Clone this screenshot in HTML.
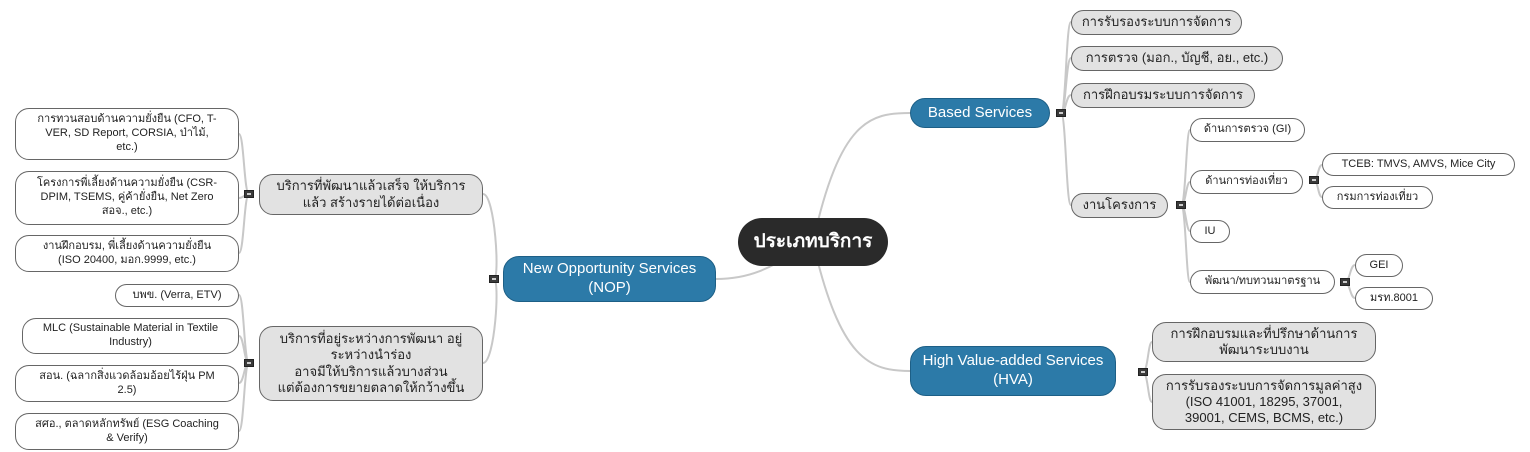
<!DOCTYPE html>
<html><head><meta charset="utf-8"><style>
body{margin:0;width:1530px;height:452px;background:#fff;position:relative;overflow:hidden;font-family:"Liberation Sans","DejaVu Sans",sans-serif;}
.n{position:absolute;box-sizing:border-box;display:flex;align-items:center;justify-content:center;text-align:center;border:1px solid #555;line-height:1.25;color:#222}
.w{background:#fff;border-radius:14px;font-size:11px;border-color:#666}
.g{background:#e2e2e2;border-radius:14px;font-size:13px;border-color:#666}
.b{background:#2c7aa8;color:#fff;border-radius:16px;font-size:15px;border:1px solid #1d5f86}
.c{background:#2a2a2a;color:#fff;border-radius:24px;font-size:19px;font-weight:bold;border:none}
.m{position:absolute;width:10px;height:8px;background:#3a3a3a;border:1px solid #222;box-sizing:border-box}
.m:after{content:"";position:absolute;left:2px;right:2px;top:2px;height:2px;background:#ccc}
</style></head><body>
<svg width="1530" height="452" style="position:absolute;left:0;top:0" fill="none" stroke="#c8c8c8" stroke-width="2">
<path d="M813 242 C840 120,870 113,910 113"/>
<path d="M813 242 C840 360,870 371,910 371"/>
<path d="M813 242 C780 260,760 279,716 279"/>
<path d="M1061 113 C1066 113,1066 22,1071 22 M1061 113 C1066 113,1066 58,1071 58 M1061 113 C1066 113,1066 95,1071 95 M1061 113 C1066 113,1066 205,1071 205"/>
<path d="M1181 205 C1186 205,1186 130,1190 130 M1181 205 C1186 205,1186 182,1190 182 M1181 205 C1186 205,1186 231,1190 231 M1181 205 C1186 205,1186 282,1190 282"/>
<path d="M1314 180 C1318 180,1318 165,1322 165 M1314 180 C1318 180,1318 197,1322 197"/>
<path d="M1345 282 C1350 282,1350 265,1355 265 M1345 282 C1350 282,1350 298,1355 298"/>
<path d="M1143 372 C1148 372,1148 342,1152 342 M1143 372 C1148 372,1148 402,1152 402"/>
<path d="M494 279 C500 279,495 194,483 194 M494 279 C500 279,495 363,483 363"/>
<path d="M249 194 C244 194,244 134,239 134 M249 194 C244 194,244 198,239 198 M249 194 C244 194,244 253,239 253"/>
<path d="M249 363 C244 363,244 295,239 295 M249 363 C244 363,244 336,239 336 M249 363 C244 363,244 383,239 383 M249 363 C244 363,244 431,239 431"/>
</svg>
<div class="n c" style="left:738px;top:218px;width:150px;height:48px">ประเภทบริการ</div>
<div class="n b" style="left:910px;top:98px;width:140px;height:30px">Based Services</div>
<div class="n b" style="left:503px;top:256px;width:213px;height:46px">New Opportunity Services<br>(NOP)</div>
<div class="n b" style="left:910px;top:346px;width:206px;height:50px">High Value-added Services<br>(HVA)</div>
<div class="m" style="left:1056px;top:109px"></div>
<div class="m" style="left:1138px;top:368px"></div>
<div class="m" style="left:489px;top:275px"></div>
<div class="m" style="left:244px;top:190px"></div>
<div class="m" style="left:244px;top:359px"></div>
<div class="m" style="left:1176px;top:201px"></div>
<div class="m" style="left:1309px;top:176px"></div>
<div class="m" style="left:1340px;top:278px"></div>
<div class="n g" style="left:1071px;top:10px;width:171px;height:25px">การรับรองระบบการจัดการ</div>
<div class="n g" style="left:1071px;top:46px;width:212px;height:25px">การตรวจ (มอก., บัญชี, อย., etc.)</div>
<div class="n g" style="left:1071px;top:83px;width:184px;height:25px">การฝึกอบรมระบบการจัดการ</div>
<div class="n g" style="left:1071px;top:193px;width:97px;height:25px">งานโครงการ</div>
<div class="n w" style="left:1190px;top:118px;width:115px;height:24px">ด้านการตรวจ (GI)</div>
<div class="n w" style="left:1190px;top:170px;width:113px;height:24px">ด้านการท่องเที่ยว</div>
<div class="n w" style="left:1190px;top:220px;width:40px;height:23px">IU</div>
<div class="n w" style="left:1190px;top:270px;width:145px;height:24px">พัฒนา/ทบทวนมาตรฐาน</div>
<div class="n w" style="left:1322px;top:153px;width:193px;height:23px">TCEB: TMVS, AMVS, Mice City</div>
<div class="n w" style="left:1322px;top:186px;width:111px;height:23px">กรมการท่องเที่ยว</div>
<div class="n w" style="left:1355px;top:254px;width:48px;height:23px">GEI</div>
<div class="n w" style="left:1355px;top:287px;width:78px;height:23px">มรท.8001</div>
<div class="n g" style="left:1152px;top:322px;width:224px;height:40px">การฝึกอบรมและที่ปรึกษาด้านการ<br>พัฒนาระบบงาน</div>
<div class="n g" style="left:1152px;top:374px;width:224px;height:56px">การรับรองระบบการจัดการมูลค่าสูง<br>(ISO 41001, 18295, 37001,<br>39001, CEMS, BCMS, etc.)</div>
<div class="n g" style="left:259px;top:174px;width:224px;height:41px">บริการที่พัฒนาแล้วเสร็จ ให้บริการ<br>แล้ว สร้างรายได้ต่อเนื่อง</div>
<div class="n g" style="left:259px;top:326px;width:224px;height:75px">บริการที่อยู่ระหว่างการพัฒนา อยู่<br>ระหว่างนำร่อง<br>อาจมีให้บริการแล้วบางส่วน<br>แต่ต้องการขยายตลาดให้กว้างขึ้น</div>
<div class="n w" style="left:15px;top:108px;width:224px;height:52px">การทวนสอบด้านความยั่งยืน (CFO, T-<br>VER, SD Report, CORSIA, ป่าไม้,<br>etc.)</div>
<div class="n w" style="left:15px;top:171px;width:224px;height:54px">โครงการพี่เลี้ยงด้านความยั่งยืน (CSR-<br>DPIM, TSEMS, คู่ค้ายั่งยืน, Net Zero<br>สอจ., etc.)</div>
<div class="n w" style="left:15px;top:235px;width:224px;height:37px">งานฝึกอบรม, พี่เลี้ยงด้านความยั่งยืน<br>(ISO 20400, มอก.9999, etc.)</div>
<div class="n w" style="left:115px;top:284px;width:124px;height:23px">บพข. (Verra, ETV)</div>
<div class="n w" style="left:22px;top:318px;width:217px;height:36px">MLC (Sustainable Material in Textile<br>Industry)</div>
<div class="n w" style="left:15px;top:365px;width:224px;height:37px">สอน. (ฉลากสิ่งแวดล้อมอ้อยไร้ฝุ่น PM<br>2.5)</div>
<div class="n w" style="left:15px;top:413px;width:224px;height:37px">สศอ., ตลาดหลักทรัพย์ (ESG Coaching<br>&amp; Verify)</div>
</body></html>
